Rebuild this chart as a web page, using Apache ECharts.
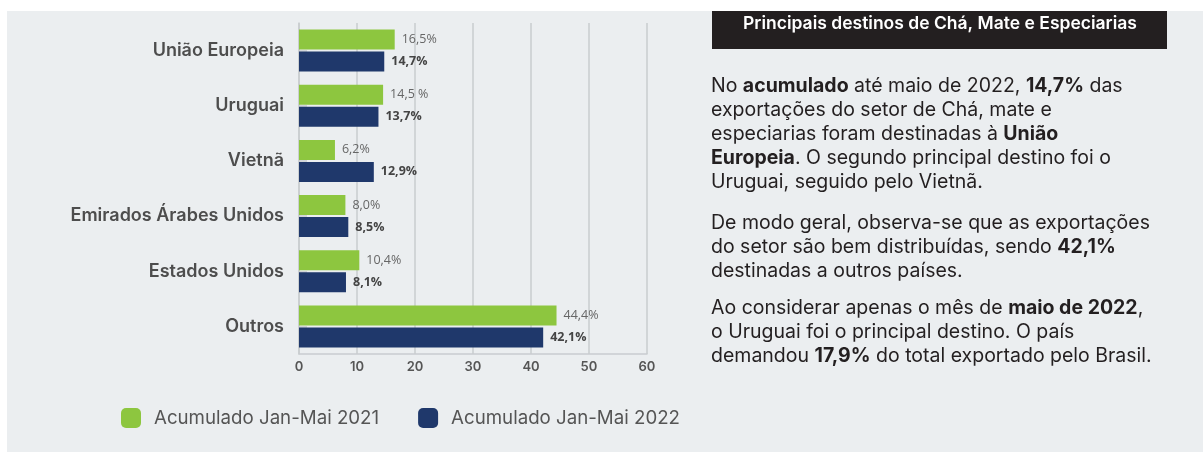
<!DOCTYPE html>
<html>
<head>
<meta charset="utf-8">
<script src="https://cdn.jsdelivr.net/npm/echarts@6/dist/echarts.min.js"></script>
<style>
  html, body { margin: 0; padding: 0; background: #ffffff; }
  #chart { width: 1203px; height: 452px; }
</style>
</head>
<body>
<div id="chart"></div>
<script>
var categories = ['União Europeia', 'Uruguai', 'Vietnã', 'Emirados Árabes Unidos', 'Estados Unidos', 'Outros'];
var values2021 = [16.5, 14.5, 6.2, 8.0, 10.4, 44.4];
var values2022 = [14.7, 13.7, 12.9, 8.5, 8.1, 42.1];
var labels2021 = ['16,5%', '14,5 %', '6,2%', '8,0%', '10,4%', '44,4%'];
var labels2022 = ['14,7%', '13,7%', '12,9%', '8,5%', '8,1%', '42,1%'];
var seriesNames = ['Acumulado Jan-Mai 2021', 'Acumulado Jan-Mai 2022'];
var xMin = 0, xMax = 60, xStep = 10;

var titleText = 'Principais destinos de Chá, Mate e Especiarias';
var para1 = 'No {b|acumulado} até maio de 2022, {b|14,7%} das\nexportações do setor de Chá, mate e\nespeciarias foram destinadas à {b|União}\n{b|Europeia}. O segundo principal destino foi o\nUruguai, seguido pelo Vietnã.';
var para2 = 'De modo geral, observa-se que as exportações\ndo setor são bem distribuídas, sendo {b|42,1%}\ndestinadas a outros países.';
var para3 = 'Ao considerar apenas o mês de {b|maio de 2022},\no Uruguai foi o principal destino. O país\ndemandou {b|17,9%} do total exportado pelo Brasil.';

(function() {
  var font = 'Inter, "Open Sans", sans-serif';
  var labelFont = '"Open Sans", sans-serif';
  var green = '#8dc63f';
  var navy = '#1f386b';
  var grid = '#c9cccf';
  var ink = '#231f20';
  var muted = '#555555';

  function para(top, text) {
    return {
      type: 'text', left: 711, top: top, z: 10,
      style: {
        text: text, fill: ink, fontFamily: font, fontSize: 19.5, lineHeight: 24,
        rich: { b: { fontWeight: 'bold', fill: ink, fontFamily: font, fontSize: 19.5, lineHeight: 24 } }
      }
    };
  }

  var chart = echarts.init(document.getElementById('chart'), null, { renderer: 'canvas' });
  chart.setOption({
    animation: false,
    textStyle: { fontFamily: font },
    grid: { left: 299, right: 556, top: 23, height: 331, containLabel: false },
    legend: {
      left: 121, top: 408, padding: 0, itemWidth: 20, itemHeight: 20, itemGap: 39,
      icon: 'roundRect',
      textStyle: { fontSize: 18.7, color: muted, fontFamily: font, padding: [0, 0, 0, 8] },
      data: seriesNames
    },
    xAxis: {
      type: 'value', min: xMin, max: xMax, interval: xStep,
      axisLine: { show: true, lineStyle: { color: grid, width: 1.5 } },
      axisTick: { show: false },
      axisLabel: { color: muted, fontSize: 13, fontWeight: 600, margin: 7, fontFamily: font },
      splitLine: { lineStyle: { color: grid, width: 1.5 } }
    },
    yAxis: {
      type: 'category', data: categories, inverse: true,
      axisLine: { show: true, lineStyle: { color: grid, width: 1.5 } },
      axisTick: { show: true, inside: true, alignWithLabel: true, length: 8, lineStyle: { color: grid, width: 1.5 } },
      axisLabel: { color: '#4d4d4d', fontSize: 18, fontWeight: 600, margin: 15, fontFamily: font }
    },
    series: [
      {
        name: seriesNames[0], type: 'bar', data: values2021,
        barWidth: 20, barGap: '10%',
        itemStyle: { color: green },
        label: {
          show: true, position: 'right', distance: 7, color: '#666666', fontSize: 12.5, fontFamily: labelFont,
          formatter: function(p) { return labels2021[p.dataIndex]; }
        }
      },
      {
        name: seriesNames[1], type: 'bar', data: values2022,
        barWidth: 20, barGap: '10%',
        itemStyle: { color: navy },
        label: {
          show: true, position: 'right', distance: 7, color: '#444444', fontSize: 12.5, fontWeight: 'bold', fontFamily: labelFont,
          formatter: function(p) { return labels2022[p.dataIndex]; }
        }
      }
    ],
    graphic: [
      { type: 'rect', z: -100, shape: { x: 7, y: 11, width: 1196, height: 441 }, style: { fill: '#ebeef0' } },
      { type: 'rect', z: 5, shape: { x: 712, y: 11, width: 455, height: 38 }, style: { fill: '#231f20' } },
      {
        type: 'text', z: 10, x: 940, y: 24,
        style: { text: titleText, fill: '#ffffff', fontFamily: font, fontSize: 17.5, fontWeight: 600, align: 'center', verticalAlign: 'middle' }
      },
      para(74, para1),
      para(211, para2),
      para(296, para3)
    ]
  });
  window.addEventListener('resize', function() { chart.resize(); });
})();
</script>
</body>
</html>
